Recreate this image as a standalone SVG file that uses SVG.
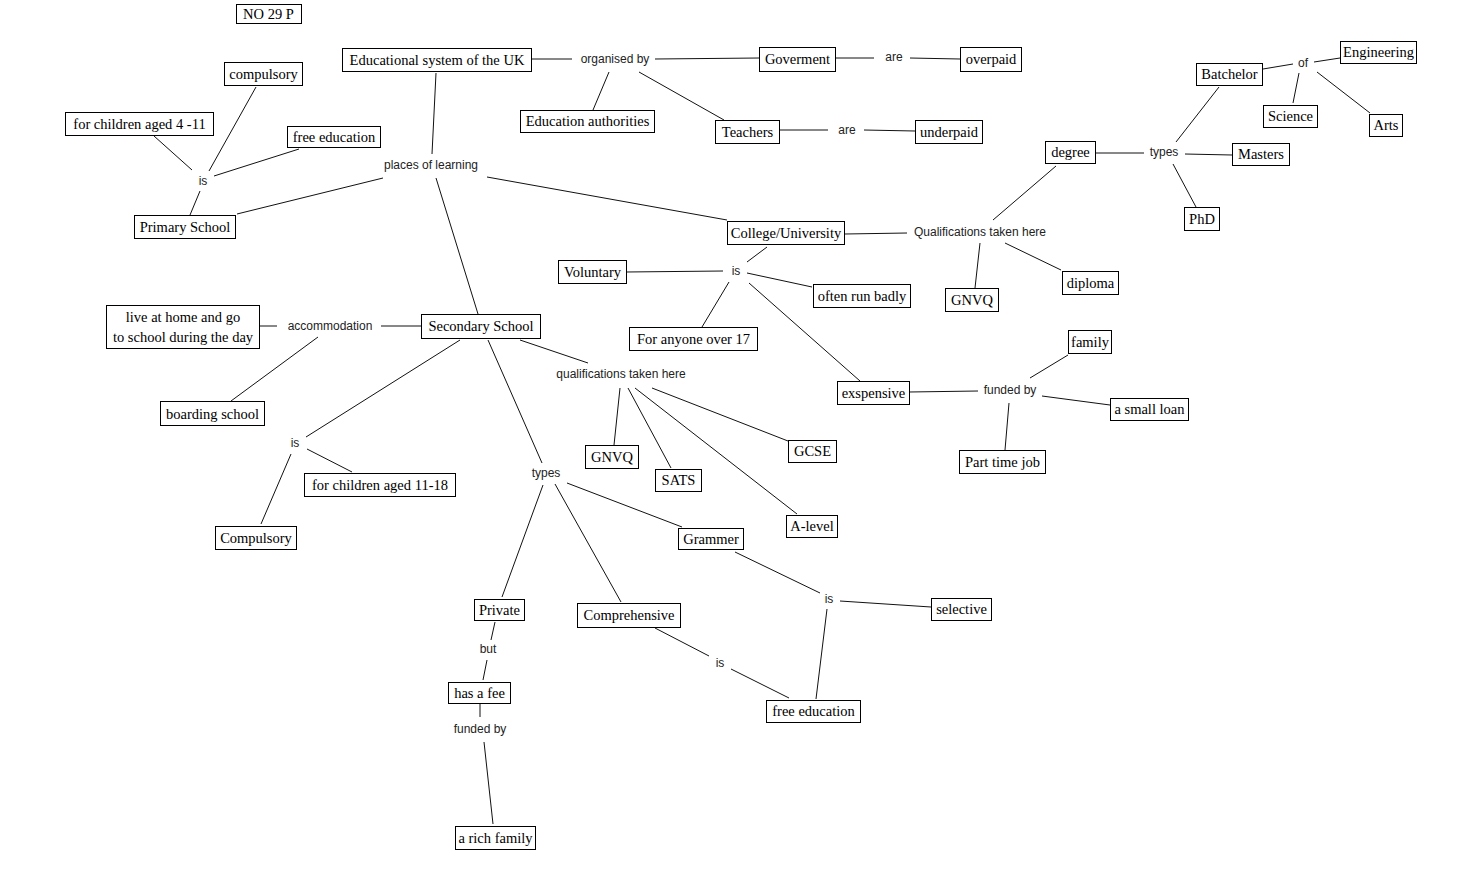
<svg xmlns="http://www.w3.org/2000/svg" width="1461" height="890" viewBox="0 0 1461 890">
<style>
.n rect{fill:#fff;stroke:#000;stroke-width:1}
.n text{font-family:"Liberation Serif",serif;font-size:14.5px;text-anchor:middle;fill:#000}
.l text{font-family:"Liberation Sans",sans-serif;font-size:12px;text-anchor:middle;fill:#222}
#edges line{stroke:#111;stroke-width:1}
</style>
<rect width="1461" height="890" fill="#fff"/>
<g id="edges">
<line x1="531" y1="59" x2="572" y2="59"/>
<line x1="655" y1="59" x2="759" y2="58"/>
<line x1="835" y1="58" x2="874" y2="58"/>
<line x1="910" y1="58" x2="960" y2="59"/>
<line x1="609" y1="72" x2="593" y2="110"/>
<line x1="639" y1="72" x2="724" y2="120"/>
<line x1="779" y1="130" x2="828" y2="130"/>
<line x1="864" y1="130" x2="915" y2="131"/>
<line x1="256" y1="87" x2="209" y2="171"/>
<line x1="154" y1="136" x2="192" y2="170"/>
<line x1="299" y1="149" x2="214" y2="176"/>
<line x1="200" y1="191" x2="190" y2="215"/>
<line x1="237" y1="214" x2="383" y2="178"/>
<line x1="436" y1="73" x2="432" y2="154"/>
<line x1="436" y1="178" x2="478" y2="314"/>
<line x1="487" y1="177" x2="727" y2="220"/>
<line x1="845" y1="234" x2="907" y2="233"/>
<line x1="980" y1="243" x2="975" y2="288"/>
<line x1="1005" y1="243" x2="1061" y2="270"/>
<line x1="993" y1="220" x2="1056" y2="166"/>
<line x1="1095" y1="153" x2="1144" y2="153"/>
<line x1="1185" y1="154" x2="1232" y2="155"/>
<line x1="1176" y1="142" x2="1219" y2="87"/>
<line x1="1173" y1="164" x2="1196" y2="207"/>
<line x1="1263" y1="69" x2="1293" y2="64"/>
<line x1="1314" y1="62" x2="1340" y2="58"/>
<line x1="1299" y1="73" x2="1293" y2="103"/>
<line x1="1317" y1="72" x2="1370" y2="113"/>
<line x1="767" y1="247" x2="747" y2="262"/>
<line x1="626" y1="272" x2="723" y2="271"/>
<line x1="747" y1="273" x2="812" y2="287"/>
<line x1="729" y1="282" x2="702" y2="327"/>
<line x1="749" y1="283" x2="860" y2="381"/>
<line x1="909" y1="392" x2="978" y2="391"/>
<line x1="1030" y1="378" x2="1068" y2="355"/>
<line x1="1042" y1="396" x2="1110" y2="405"/>
<line x1="1009" y1="403" x2="1005" y2="450"/>
<line x1="259" y1="326" x2="277" y2="326"/>
<line x1="381" y1="326" x2="421" y2="326"/>
<line x1="318" y1="337" x2="231" y2="401"/>
<line x1="460" y1="340" x2="306" y2="437"/>
<line x1="307" y1="449" x2="352" y2="472"/>
<line x1="291" y1="454" x2="261" y2="524"/>
<line x1="488" y1="340" x2="542" y2="463"/>
<line x1="520" y1="340" x2="588" y2="363"/>
<line x1="620" y1="388" x2="614" y2="445"/>
<line x1="628" y1="388" x2="671" y2="468"/>
<line x1="635" y1="388" x2="797" y2="514"/>
<line x1="652" y1="388" x2="788" y2="441"/>
<line x1="543" y1="485" x2="502" y2="597"/>
<line x1="555" y1="484" x2="621" y2="602"/>
<line x1="567" y1="483" x2="682" y2="527"/>
<line x1="735" y1="552" x2="820" y2="593"/>
<line x1="840" y1="601" x2="931" y2="607"/>
<line x1="827" y1="609" x2="816" y2="699"/>
<line x1="655" y1="628" x2="709" y2="656"/>
<line x1="731" y1="669" x2="789" y2="698"/>
<line x1="495" y1="622" x2="491" y2="640"/>
<line x1="487" y1="660" x2="483" y2="680"/>
<line x1="480" y1="704" x2="480" y2="717"/>
<line x1="484" y1="742" x2="493" y2="824"/>
</g>
<g id="no29p" class="n"><rect x="236.5" y="4.5" width="65" height="19"/><text x="268.5" y="19">NO 29 P</text></g>
<g id="edu" class="n"><rect x="342.5" y="48.5" width="189" height="23"/><text x="437" y="65">Educational system of the UK</text></g>
<g id="gov" class="n"><rect x="759.5" y="47.5" width="76" height="24"/><text x="797.5" y="64">Goverment</text></g>
<g id="overpaid" class="n"><rect x="960.5" y="47.5" width="61" height="24"/><text x="991" y="64">overpaid</text></g>
<g id="edauth" class="n"><rect x="520.5" y="110.5" width="134" height="22"/><text x="587.5" y="126">Education authorities</text></g>
<g id="teachers" class="n"><rect x="715.5" y="120.5" width="64" height="23"/><text x="747.5" y="136.5">Teachers</text></g>
<g id="underpaid" class="n"><rect x="915.5" y="120.5" width="67" height="23"/><text x="949" y="136.5">underpaid</text></g>
<g id="compulsory1" class="n"><rect x="224.5" y="62.5" width="78" height="23"/><text x="263.5" y="78.5">compulsory</text></g>
<g id="aged411" class="n"><rect x="65.5" y="112.5" width="148" height="23"/><text x="139.5" y="128.5">for children aged 4 -11</text></g>
<g id="freeed1" class="n"><rect x="287.5" y="126.5" width="93" height="21"/><text x="334" y="141.5">free education</text></g>
<g id="primary" class="n"><rect x="134.5" y="215.5" width="101" height="23"/><text x="185" y="231.5">Primary School</text></g>
<g id="college" class="n"><rect x="727.5" y="221.5" width="117" height="23"/><text x="786" y="237.5">College/University</text></g>
<g id="degree" class="n"><rect x="1045.5" y="141.5" width="50" height="22"/><text x="1070.5" y="157">degree</text></g>
<g id="masters" class="n"><rect x="1232.5" y="143.5" width="57" height="22"/><text x="1261" y="159">Masters</text></g>
<g id="phd" class="n"><rect x="1184.5" y="207.5" width="35" height="23"/><text x="1202" y="223.5">PhD</text></g>
<g id="batchelor" class="n"><rect x="1196.5" y="63.5" width="66" height="22"/><text x="1229.5" y="79">Batchelor</text></g>
<g id="engineering" class="n"><rect x="1340.5" y="41.5" width="76" height="22"/><text x="1378.5" y="57">Engineering</text></g>
<g id="science" class="n"><rect x="1263.5" y="105.5" width="54" height="22"/><text x="1290.5" y="121">Science</text></g>
<g id="arts" class="n"><rect x="1369.5" y="114.5" width="33" height="22"/><text x="1386" y="130">Arts</text></g>
<g id="gnvq2" class="n"><rect x="945.5" y="288.5" width="53" height="23"/><text x="972" y="304.5">GNVQ</text></g>
<g id="diploma" class="n"><rect x="1062.5" y="271.5" width="56" height="23"/><text x="1090.5" y="287.5">diploma</text></g>
<g id="voluntary" class="n"><rect x="558.5" y="260.5" width="68" height="23"/><text x="592.5" y="276.5">Voluntary</text></g>
<g id="often" class="n"><rect x="813.5" y="284.5" width="97" height="23"/><text x="862" y="300.5">often run badly</text></g>
<g id="anyone" class="n"><rect x="629.5" y="327.5" width="128" height="23"/><text x="693.5" y="343.5">For anyone over 17</text></g>
<g id="exspensive" class="n"><rect x="837.5" y="381.5" width="72" height="23"/><text x="873.5" y="397.5">exspensive</text></g>
<g id="family" class="n"><rect x="1068.5" y="330.5" width="43" height="23"/><text x="1090" y="346.5">family</text></g>
<g id="smallloan" class="n"><rect x="1110.5" y="398.5" width="78" height="22"/><text x="1149.5" y="414">a small loan</text></g>
<g id="parttime" class="n"><rect x="959.5" y="450.5" width="86" height="23"/><text x="1002.5" y="466.5">Part time job</text></g>
<g id="livehome" class="n"><rect x="106.5" y="305.5" width="153" height="43"/><text x="183" y="321.5">live at home and go</text><text x="183" y="341.5">to school during the day</text></g>
<g id="secondary" class="n"><rect x="421.5" y="314.5" width="119" height="24"/><text x="481" y="331">Secondary School</text></g>
<g id="boarding" class="n"><rect x="160.5" y="401.5" width="104" height="24"/><text x="212.5" y="418.5">boarding school</text></g>
<g id="aged1118" class="n"><rect x="304.5" y="473.5" width="151" height="23"/><text x="380" y="489.5">for children aged 11-18</text></g>
<g id="compulsory2" class="n"><rect x="215.5" y="526.5" width="81" height="23"/><text x="256" y="542.5">Compulsory</text></g>
<g id="gnvq1" class="n"><rect x="585.5" y="445.5" width="53" height="23"/><text x="612" y="461.5">GNVQ</text></g>
<g id="sats" class="n"><rect x="655.5" y="469.5" width="46" height="22"/><text x="678.5" y="485">SATS</text></g>
<g id="gcse" class="n"><rect x="788.5" y="440.5" width="48" height="22"/><text x="812.5" y="456">GCSE</text></g>
<g id="alevel" class="n"><rect x="786.5" y="515.5" width="51" height="22"/><text x="812" y="531">A-level</text></g>
<g id="grammer" class="n"><rect x="678.5" y="528.5" width="65" height="21"/><text x="711" y="543.5">Grammer</text></g>
<g id="private" class="n"><rect x="474.5" y="599.5" width="50" height="21"/><text x="499.5" y="614.5">Private</text></g>
<g id="comprehensive" class="n"><rect x="577.5" y="603.5" width="103" height="24"/><text x="629" y="620">Comprehensive</text></g>
<g id="selective" class="n"><rect x="931.5" y="598.5" width="60" height="22"/><text x="961.5" y="614">selective</text></g>
<g id="freeed2" class="n"><rect x="766.5" y="700.5" width="94" height="22"/><text x="813.5" y="716">free education</text></g>
<g id="hasfee" class="n"><rect x="448.5" y="682.5" width="62" height="21"/><text x="479.5" y="697.5">has a fee</text></g>
<g id="richfamily" class="n"><rect x="455.5" y="826.5" width="80" height="23"/><text x="495.5" y="842.5">a rich family</text></g>
<g id="l_organised" class="l"><text x="615" y="63">organised by</text></g>
<g id="l_are1" class="l"><text x="894" y="61">are</text></g>
<g id="l_are2" class="l"><text x="847" y="134">are</text></g>
<g id="l_is1" class="l"><text x="203" y="185">is</text></g>
<g id="l_places" class="l"><text x="431" y="169">places of learning</text></g>
<g id="l_qual1" class="l"><text x="980" y="236">Qualifications taken here</text></g>
<g id="l_types1" class="l"><text x="1164" y="156">types</text></g>
<g id="l_of" class="l"><text x="1303" y="67">of</text></g>
<g id="l_is2" class="l"><text x="736" y="275">is</text></g>
<g id="l_funded1" class="l"><text x="1010" y="394">funded by</text></g>
<g id="l_accom" class="l"><text x="330" y="330">accommodation</text></g>
<g id="l_is3" class="l"><text x="295" y="447">is</text></g>
<g id="l_qual2" class="l"><text x="621" y="378">qualifications taken here</text></g>
<g id="l_types2" class="l"><text x="546" y="477">types</text></g>
<g id="l_is4" class="l"><text x="829" y="603">is</text></g>
<g id="l_is5" class="l"><text x="720" y="667">is</text></g>
<g id="l_but" class="l"><text x="488" y="653">but</text></g>
<g id="l_funded2" class="l"><text x="480" y="733">funded by</text></g>
</svg>
